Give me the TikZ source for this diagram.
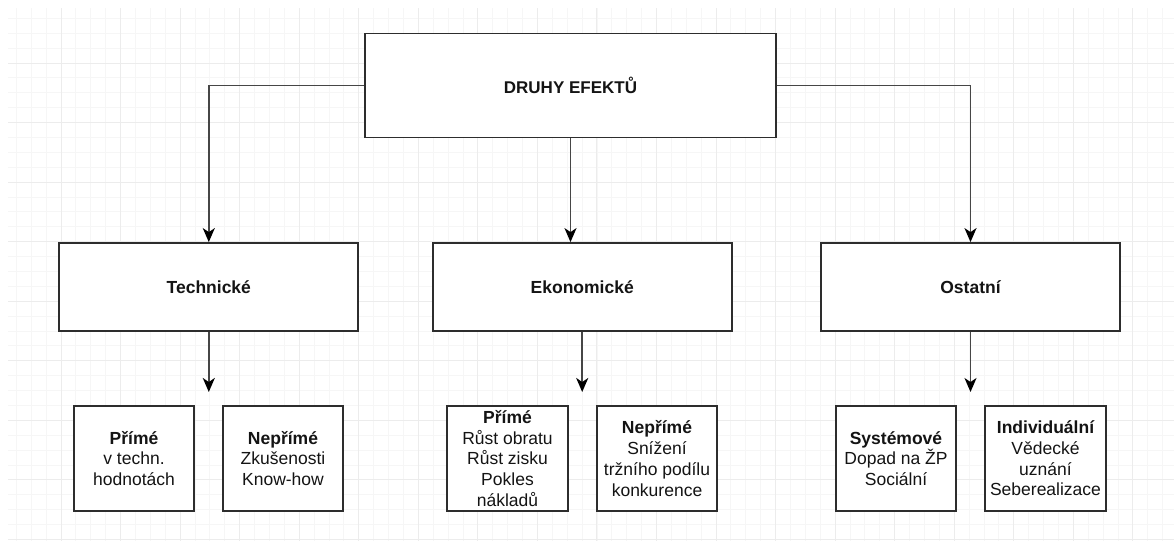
\documentclass[tikz,border=0pt]{standalone}
\usepackage{fontspec}
\setmainfont{Liberation Sans}
\usetikzlibrary{arrows.meta}
\definecolor{minorgrid}{RGB}{246,246,246}
\definecolor{majorgrid}{RGB}{236,236,236}
\definecolor{boxline}{RGB}{45,45,45}
\definecolor{connline}{RGB}{70,70,70}
\tikzset{
  gridminor/.style={draw=minorgrid, line width=0.9pt},
  gridmajor/.style={draw=majorgrid, line width=1pt},
  box/.style={draw=boxline, line width=1.8pt, fill=white, inner sep=0pt, align=center,
    text=black!92, font=\fontsize{17.5}{20.7}\selectfont},
  headbox/.style={box, minimum width=299pt, minimum height=88pt, font=\fontsize{17.5}{20.7}\selectfont\bfseries},
  leafbox/.style={box, minimum width=120pt, minimum height=105pt},
  conn/.style={draw=connline, line width=1.8pt, -{Stealth[length=14pt,width=12pt,inset=4pt,color=black]}}
}
\begin{document}
\begin{tikzpicture}[x=1pt,y=-1pt]
\useasboundingbox (0,0) rectangle (1174,544);
\fill[white] (0,0) rectangle (1174,544);
\begin{scope}
  \clip (8,8) rectangle (1174,540);
  \foreach \i in {-4,...,76} \draw[gridminor] ({61+14.8875*\i},0) -- ++(0,544);
  \foreach \i in {-4,...,36} \draw[gridminor] (0,{63+14.8875*\i}) -- ++(1174,0);
  \foreach \i in {-1,...,19} \draw[gridmajor] ({61+59.55*\i},0) -- ++(0,544);
  \foreach \i in {-1,...,9} \draw[gridmajor] (0,{63+59.55*\i}) -- ++(1174,0);
\end{scope}

% top
\node[box, minimum width=411pt, minimum height=104pt, font=\fontsize{17}{20}\selectfont\bfseries] (top) at (570.5,85.5) {DRUHY EFEKTŮ};

% level 2
\node[headbox] (tech) at (208.8,287) {Technické};
\node[headbox] (ekon) at (582.2,287) {Ekonomické};
\node[headbox] (ost) at (970.5,287) {Ostatní};

% connectors level 1 -> 2
\draw[conn] (top.west) -| (tech.north);
\draw[conn] (top.south) -- (top.south |- ekon.north);
\draw[conn] (top.east) -| (ost.north);

% arrows level 2 -> down
\coordinate (techtip) at (208.8,392);
\coordinate (ekontip) at (582.2,392);
\coordinate (osttip) at (970.5,392);
\draw[conn] (tech.south) -- (techtip);
\draw[conn] (ekon.south) -- (ekontip);
\draw[conn] (ost.south) -- (osttip);

% level 3
\node[leafbox] (tp) at (134,458.5) {{\bfseries Přímé}\\v techn.\\hodnotách};
\node[leafbox] (tn) at (283,458.5) {{\bfseries Nepřímé}\\Zkušenosti\\Know-how};
\node[leafbox, minimum width=121pt] (ep) at (507.5,458.5) {{\bfseries Přímé}\\Růst obratu\\Růst zisku\\Pokles\\nákladů};
\node[leafbox] (en) at (657,458.5) {{\bfseries Nepřímé}\\Snížení\\tržního podílu\\konkurence};
\node[leafbox] (os) at (896,458.5) {{\bfseries Systémové}\\Dopad na ŽP\\Sociální};
\node[leafbox, minimum width=121pt] (oi) at (1045.5,458.5) {{\bfseries Individuální}\\Vědecké\\uznání\\Seberealizace};
\end{tikzpicture}
\end{document}
